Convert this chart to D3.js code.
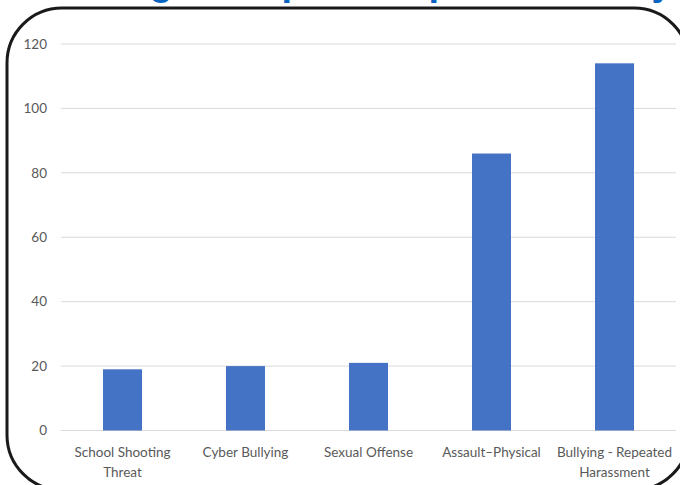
<!DOCTYPE html>
<html><head><meta charset="utf-8">
<script src="https://cdn.jsdelivr.net/npm/d3@7"></script>
<style>html,body{margin:0;padding:0;background:#fff;}svg{display:block;}</style>
</head><body>
<svg id="c" width="680" height="485"></svg>
<script>
const categories = [["School Shooting","Threat"],["Cyber Bullying"],["Sexual Offense"],["Assault–Physical"],["Bullying - Repeated","Harassment"]];
const values = [19, 20, 21, 86, 114];
const yTicks = [0, 20, 40, 60, 80, 100, 120];
const titleGlyphs = [{c:"g",x:161},{c:"p",x:293},{c:"p",x:440},{c:"y",x:662}];

const svg = d3.select("#c");
const font = "Lato, 'Open Sans', sans-serif";

// partially visible title (cut off above the frame)
svg.selectAll("text.title").data(titleGlyphs).join("text")
  .attr("class","title").attr("x",d=>d.x).attr("y",-5)
  .attr("text-anchor","middle").attr("font-family","'Liberation Sans', Arial, sans-serif")
  .attr("font-weight","bold").attr("font-size",38).attr("fill","#0563C1").text(d=>d.c);

// rounded frame
svg.append("rect").attr("x",7).attr("y",8).attr("width",682).attr("height",482)
  .attr("rx",55).attr("ry",55).attr("fill","none").attr("stroke","#1a1a1a").attr("stroke-width",3);

const x = d3.scaleBand().domain(d3.range(categories.length)).range([61, 676]).paddingInner(0.683).paddingOuter(0.3415);
const y = d3.scaleLinear().domain([0,120]).range([430.5, 44]);

// gridlines
svg.append("g").selectAll("line").data(yTicks).join("line")
  .attr("x1",61).attr("x2",676).attr("y1",d=>y(d)).attr("y2",d=>y(d))
  .attr("stroke","#D9D9D9").attr("stroke-width",1);

// y labels
svg.append("g").selectAll("text").data(yTicks).join("text")
  .attr("x",47).attr("y",d=>y(d)).attr("dy","0.35em").attr("text-anchor","end")
  .attr("font-family",font).attr("font-size",13.5).attr("fill","#595959").text(d=>d);

// bars
svg.append("g").selectAll("rect").data(values).join("rect")
  .attr("x",(d,i)=>x(i)).attr("width",x.bandwidth())
  .attr("y",d=>y(d)).attr("height",d=>y(0)-y(d)).attr("fill","#4472C4");

// x labels
const xl = svg.append("g").selectAll("text").data(categories).join("text")
  .attr("x",(d,i)=>x(i)+x.bandwidth()/2).attr("y",457).attr("text-anchor","middle")
  .attr("font-family",font).attr("font-size",13.5).attr("fill","#595959");
xl.selectAll("tspan").data(d=>d).join("tspan")
  .attr("x",function(){return this.parentNode.getAttribute("x");})
  .attr("dy",(d,i)=>i===0?0:20).text(d=>d);
</script>
</body></html>
